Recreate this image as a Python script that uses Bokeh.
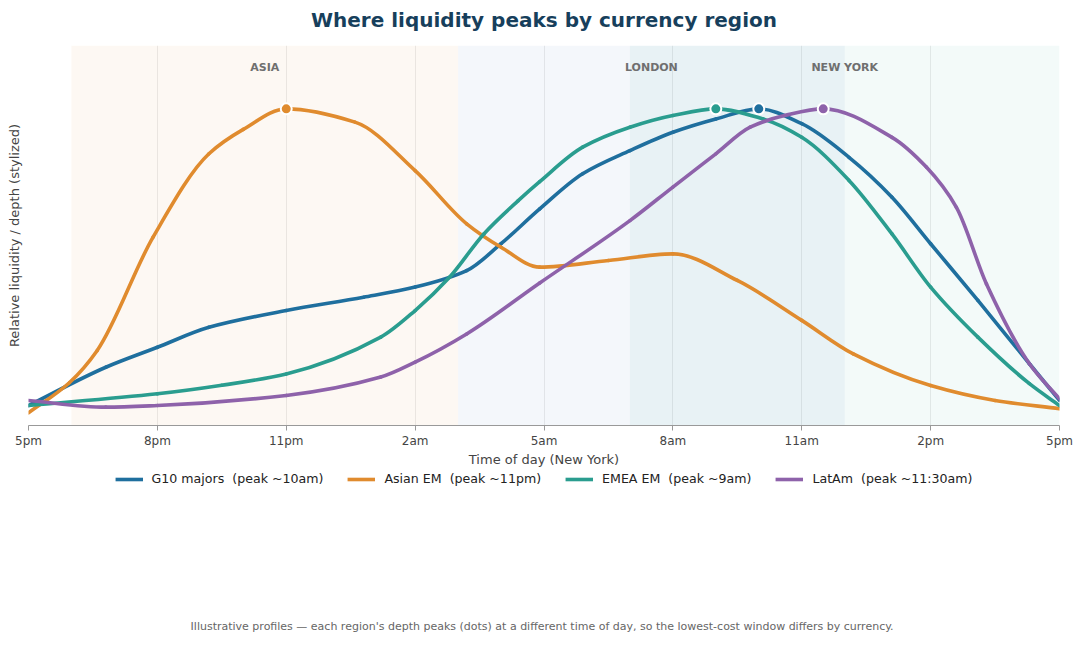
import numpy as np
from bokeh.plotting import figure
from bokeh.layouts import column
from bokeh.models import (Range1d, FixedTicker, BoxAnnotation, Label, Legend,
                          LegendItem, ColumnDataSource)
from bokeh.embed import file_html
from bokeh.resources import INLINE

# Hours counted from 5pm New York (0 = 5pm, 24 = 5pm next day)
tick_hours = [0, 3, 6, 9, 12, 15, 18, 21, 24]
tick_labels = ["5pm", "8pm", "11pm", "2am", "5am", "8am", "11am", "2pm", "5pm"]

# Trading sessions (start hour, end hour, label)
session_names = ["ASIA", "LONDON", "NEW YORK"]
session_start = [1, 10, 14]
session_end = [10, 19, 24]

# Relative liquidity profiles (1.0 = each region's own peak)
g10_hours = [0, 1.8, 3.0, 4.2, 6, 7.8, 9, 10.2, 11, 11.9, 12.9, 14, 15, 16, 17,
             18, 19.1, 20.1, 21, 22.1, 23.3, 24]
g10_depth = [0.063, 0.184, 0.247, 0.31, 0.363, 0.405, 0.437, 0.489, 0.574, 0.684,
             0.795, 0.868, 0.926, 0.968, 1.0, 0.953, 0.847, 0.721, 0.574, 0.395,
             0.195, 0.079]

asia_hours = [0, 0.95, 1.6, 2.9, 4.2, 5.0, 6, 7.6, 9, 10.2, 11, 11.9, 13.5, 15,
              16.5, 18, 19.2, 21, 22.5, 24]
asia_depth = [0.04, 0.135, 0.237, 0.595, 0.858, 0.935, 1.0, 0.958, 0.805, 0.637,
              0.563, 0.50, 0.521, 0.542, 0.458, 0.332, 0.226, 0.126, 0.079, 0.053]

emea_hours = [0, 3, 4.5, 6, 8.2, 9, 9.8, 10.6, 11.4, 11.9, 12.9, 14, 15, 16,
              17.1, 18, 19.1, 20.1, 21, 22.1, 23.3, 24]
emea_depth = [0.063, 0.1, 0.127, 0.163, 0.279, 0.363, 0.468, 0.605, 0.71, 0.77,
              0.879, 0.942, 0.979, 1.0, 0.968, 0.91, 0.774, 0.605, 0.437, 0.279,
              0.132, 0.063]

latam_hours = [0, 1.8, 3, 6, 8.2, 9, 10.2, 11.9, 14, 15, 16, 16.8, 17.6, 18.5,
               20.1, 20.9, 21.6, 22.3, 23.3, 24]
latam_depth = [0.079, 0.058, 0.063, 0.095, 0.153, 0.2, 0.289, 0.45, 0.647, 0.753,
               0.858, 0.942, 0.979, 1.0, 0.91, 0.816, 0.689, 0.447, 0.195, 0.084]

series_names = ["G10 majors  (peak ~10am)", "Asian EM  (peak ~11pm)",
                "EMEA EM  (peak ~9am)", "LatAm  (peak ~11:30am)"]
series_hours = [g10_hours, asia_hours, emea_hours, latam_hours]
series_depth = [g10_depth, asia_depth, emea_depth, latam_depth]
series_colors = ["#1f6f9e", "#e08b2e", "#2a9d8f", "#8e62aa"]

chart_title = "Where liquidity peaks by currency region"
footnote = ("Illustrative profiles \u2014 each region's depth peaks (dots) at a "
            "different time of day, so the lowest-cost window differs by currency.")

FONT = "DejaVu Sans"
LINE_W = 3.6
HEAD_H = 45
MAIN_H = 380 + 44
STRIP_H = 647 - HEAD_H - MAIN_H


def monotone_bezier(xs, ys):
    """Monotone cubic (Fritsch-Carlson) segments expressed as Bezier controls."""
    x = np.asarray(xs, float)
    y = np.asarray(ys, float)
    h = np.diff(x)
    d = np.diff(y) / h
    m = np.zeros_like(y)
    m[0], m[-1] = d[0], d[-1]
    for i in range(1, len(x) - 1):
        if d[i - 1] * d[i] <= 0:
            m[i] = 0.0
        else:
            w1 = 2 * h[i] + h[i - 1]
            w2 = h[i] + 2 * h[i - 1]
            m[i] = (w1 + w2) / (w1 / d[i - 1] + w2 / d[i])
    return dict(
        x0=x[:-1], y0=y[:-1], x1=x[1:], y1=y[1:],
        cx0=x[:-1] + h / 3, cy0=y[:-1] + m[:-1] * h / 3,
        cx1=x[1:] - h / 3, cy1=y[1:] - m[1:] * h / 3,
    )


def text_strip(height):
    """Blank full-width figure used for text rows (pixel coordinates, y down)."""
    f = figure(width=1086, height=height, output_backend="svg",
               toolbar_location=None, x_range=Range1d(0, 1086),
               y_range=Range1d(height, 0), min_border=0, outline_line_color=None)
    f.axis.visible = False
    f.grid.visible = False
    f.background_fill_color = "white"
    f.border_fill_color = "white"
    return f


# ---- title row ------------------------------------------------------------
head = text_strip(HEAD_H)
head.add_layout(Label(x=543, y=19, text=chart_title, text_align="center",
                      text_baseline="middle", text_font=FONT,
                      text_font_size="20px", text_font_style="bold",
                      text_color="#173f5c"))

# ---- main chart -----------------------------------------------------------
p = figure(frame_width=1031, frame_height=380, output_backend="svg",
           toolbar_location=None,
           x_range=Range1d(0, 24), y_range=Range1d(0, 1.2),
           min_border_left=28, min_border_right=27, min_border_top=0,
           min_border_bottom=44)
p.outline_line_color = None
p.background_fill_color = "white"
p.border_fill_color = "white"

# Session shading
band_colors = ["#e08b2e", "#4a7fb5", "#2a9d8f"]
band_alphas = [0.06, 0.06, 0.055]
for s, e, c, a in zip(session_start, session_end, band_colors, band_alphas):
    p.add_layout(BoxAnnotation(left=s, right=e, fill_color=c, fill_alpha=a,
                               line_color=None, level="underlay"))
for name, s, e in zip(session_names, session_start, session_end):
    p.add_layout(Label(x=(s + e) / 2, y=1.13, text=name, text_align="center",
                       text_baseline="middle", text_font=FONT,
                       text_font_size="11px", text_font_style="bold",
                       text_color="#6f6f6f"))

# Axes and grid
p.ygrid.grid_line_color = None
p.yaxis.ticker = FixedTicker(ticks=[])
p.yaxis.axis_line_color = None
p.yaxis.major_tick_line_color = None
p.yaxis.minor_tick_line_color = None
p.yaxis.major_label_text_font_size = "0px"
p.yaxis.axis_label = "Relative liquidity / depth (stylized)"
p.yaxis.axis_label_text_font = FONT
p.yaxis.axis_label_text_font_size = "13px"
p.yaxis.axis_label_text_font_style = "normal"
p.yaxis.axis_label_text_color = "#444444"
p.yaxis.axis_label_standoff = 7

p.xgrid.grid_line_color = "#ebebeb"
p.xgrid.grid_line_width = 1
p.xaxis.ticker = FixedTicker(ticks=tick_hours)
p.xaxis.major_label_overrides = {h: lab for h, lab in zip(tick_hours, tick_labels)}
p.xaxis.axis_label = "Time of day (New York)"
p.xaxis.axis_label_text_font = FONT
p.xaxis.axis_label_text_font_size = "13px"
p.xaxis.axis_label_text_font_style = "normal"
p.xaxis.axis_label_text_color = "#444444"
p.xaxis.axis_label_standoff = 1
p.xaxis.major_label_text_font = FONT
p.xaxis.major_label_text_font_size = "12px"
p.xaxis.major_label_text_color = "#444444"
p.xaxis.major_label_standoff = 3
p.xaxis.axis_line_color = "#999999"
p.xaxis.major_tick_line_color = "#999999"
p.xaxis.major_tick_out = 5
p.xaxis.major_tick_in = 0
p.xaxis.minor_tick_line_color = None

# Curves and peak markers
for hrs, dep, col in zip(series_hours, series_depth, series_colors):
    src = ColumnDataSource(monotone_bezier(hrs, dep))
    p.bezier(x0="x0", y0="y0", x1="x1", y1="y1", cx0="cx0", cy0="cy0",
             cx1="cx1", cy1="cy1", source=src, line_color=col,
             line_width=LINE_W, line_cap="round")
    k = int(np.argmax(dep))
    p.scatter([hrs[k]], [dep[k]], size=11, fill_color=col, line_color="white",
              line_width=2)

# ---- legend and footnote row ---------------------------------------------
q = text_strip(STRIP_H)

# legend keys: line renderers that sit outside the visible strip
items = []
for name, col in zip(series_names, series_colors):
    key = q.line([-50, -40], [-50, -50], line_color=col, line_width=LINE_W)
    items.append(LegendItem(label=name, renderers=[key]))
q.add_layout(Legend(items=items, orientation="horizontal", location="top_center",
                    label_text_font=FONT, label_text_font_size="12.6px",
                    label_text_color="#222222", glyph_width=28, glyph_height=14,
                    label_standoff=9, spacing=24, padding=2, margin=2,
                    border_line_color=None, background_fill_alpha=0))

q.add_layout(Label(x=541, y=626 - HEAD_H - MAIN_H, text=footnote,
                   text_align="center", text_baseline="middle", text_font=FONT,
                   text_font_size="11px", text_color="#666666"))

layout = column(head, p, q, spacing=0)
open("out.html", "w").write(file_html(layout, INLINE))
